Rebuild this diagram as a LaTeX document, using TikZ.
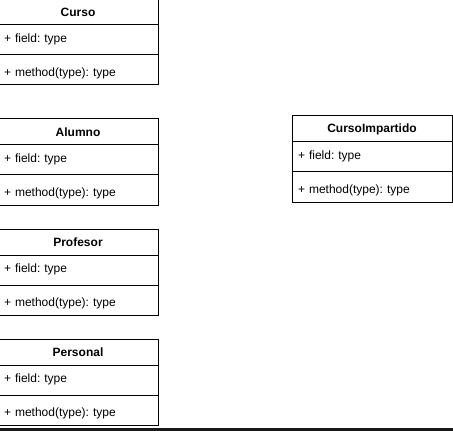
\documentclass[tikz,border=0pt]{standalone}
\usepackage{fontspec}
\setmainfont{Liberation Sans}
\usetikzlibrary{positioning}
\frenchspacing

\tikzset{
	clshead/.style={draw, line width=0.75pt, outer sep=0pt, inner sep=0pt,
		minimum width=120pt, minimum height=19.5pt,
		font=\bfseries\fontsize{9}{10}\selectfont},
	clsrow/.style={draw, line width=0.75pt, outer sep=0pt, inner xsep=4.5pt, inner ysep=0pt,
		minimum width=120pt, minimum height=22.5pt, text width=111pt, align=left,
		font=\fontsize{9}{10}\selectfont},
	clsatr/.style={clsrow, text height=7pt, text depth=3pt},
	clsmet/.style={clsrow, text height=12.5pt, text depth=2.5pt},
}

\begin{document}
\begin{tikzpicture}[x=0.75pt, y=-0.75pt]
		\useasboundingbox (0, 0) rectangle (453, 431);
		\clip (0, 0) rectangle (453, 431);
		
		\node [clshead] (curso) at (78, 12) {Curso}; % Klasser till vänster
		\node [clsatr, below=0pt of curso] (cursoAtr) {+ field: type};
		\node [clsmet, below=0pt of cursoAtr] (cursoMet) {+ method(type): type};
		
		\node [clshead] (alumno) at (78, 132) {Alumno};
		\node [clsatr, below=0pt of alumno] (alumnoAtr) {+ field: type};
		\node [clsmet, below=0pt of alumnoAtr] (alumnoMet) {+ method(type): type};
		
		\node [clshead] (profesor) at (78, 242) {Profesor};
		\node [clsatr, below=0pt of profesor] (profesorAtr) {+ field: type};
		\node [clsmet, below=0pt of profesorAtr] (profesorMet) {+ method(type): type};
		
		\node [clshead] (personal) at (78, 352) {Personal};
		\node [clsatr, below=0pt of personal] (personalAtr) {+ field: type};
		\node [clsmet, below=0pt of personalAtr] (personalMet) {+ method(type): type};
		
		\node [clshead] (cursoImp) at (372, 129) {CursoImpartido}; % Klassen till höger
		\node [clsatr, below=0pt of cursoImp] (cursoImpAtr) {+ field: type};
		\node [clsmet, below=0pt of cursoImpAtr] (cursoImpMet) {+ method(type): type};
		
		\fill [black!90] (0, 427.5) rectangle (453, 431); % Kanten nederst
	\end{tikzpicture}
\end{document}
